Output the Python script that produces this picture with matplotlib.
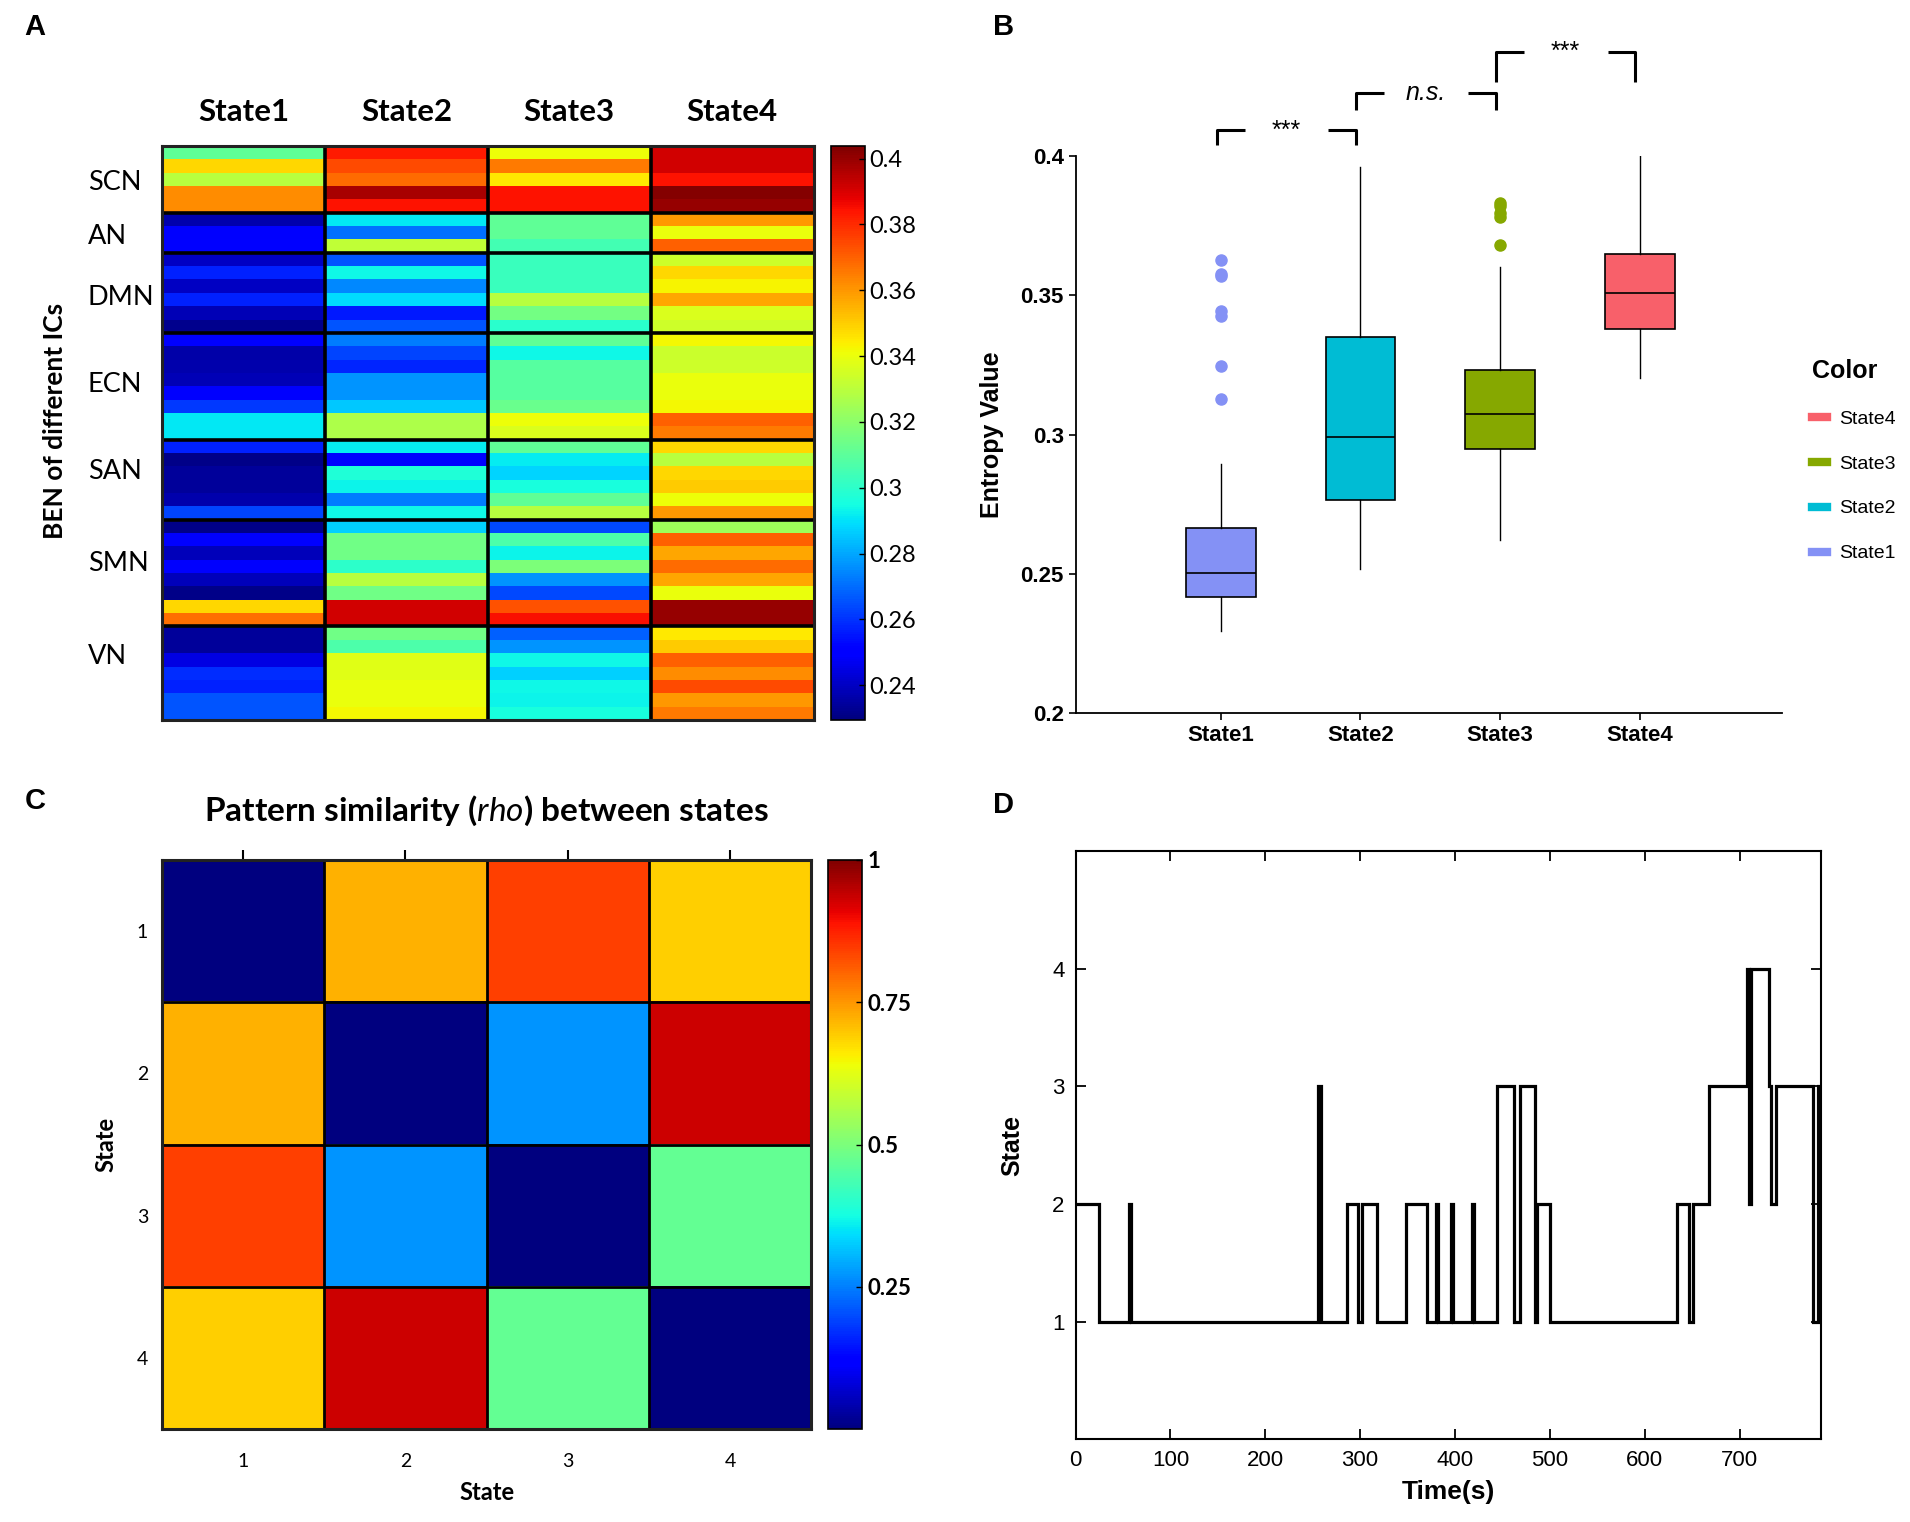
import matplotlib
matplotlib.use('Agg')
import matplotlib.pyplot as plt
import numpy as np
from matplotlib.lines import Line2D

plt.rcParams['font.family'] = ['Lato', 'DejaVu Sans']
plt.rcParams['mathtext.fontset'] = 'custom'
plt.rcParams['mathtext.it'] = 'Lato:italic'
plt.rcParams['mathtext.rm'] = 'Lato'

# ---------------- data ----------------
states = ['State1', 'State2', 'State3', 'State4']
networks = ['SCN', 'AN', 'DMN', 'ECN', 'SAN', 'SMN', 'VN']
network_sizes = [5, 3, 6, 8, 6, 8, 7]
network_label_rows = [2.74, 6.77, 11.35, 17.84, 24.43, 31.29, 38.24]

# panel A: BEN of each IC (rows) in each state
ben_state1 = [0.311, 0.348, 0.329, 0.362, 0.362,
              0.237, 0.249, 0.251,
              0.240, 0.257, 0.240, 0.257, 0.238, 0.232,
              0.249, 0.236, 0.237, 0.238, 0.249, 0.261, 0.291, 0.291,
              0.257, 0.231, 0.234, 0.234, 0.237, 0.263,
              0.231, 0.249, 0.239, 0.249, 0.239, 0.231, 0.348, 0.367,
              0.234, 0.234, 0.245, 0.259, 0.257, 0.266, 0.266]
ben_state2 = [0.383, 0.374, 0.368, 0.397, 0.384,
              0.291, 0.271, 0.331,
              0.266, 0.294, 0.275, 0.289, 0.256, 0.266,
              0.273, 0.263, 0.258, 0.277, 0.277, 0.286, 0.327, 0.327,
              0.292, 0.249, 0.297, 0.293, 0.273, 0.294,
              0.287, 0.314, 0.314, 0.300, 0.329, 0.314, 0.391, 0.391,
              0.314, 0.307, 0.338, 0.338, 0.340, 0.340, 0.342]
ben_state3 = [0.341, 0.365, 0.345, 0.384, 0.384,
              0.311, 0.311, 0.305,
              0.303, 0.303, 0.303, 0.329, 0.315, 0.299,
              0.311, 0.294, 0.309, 0.309, 0.309, 0.313, 0.341, 0.337,
              0.311, 0.292, 0.288, 0.296, 0.311, 0.329,
              0.264, 0.307, 0.293, 0.317, 0.277, 0.264, 0.373, 0.385,
              0.268, 0.277, 0.294, 0.287, 0.294, 0.293, 0.296]
ben_state4 = [0.391, 0.391, 0.384, 0.403, 0.400,
              0.360, 0.340, 0.370,
              0.334, 0.348, 0.343, 0.357, 0.337, 0.334,
              0.342, 0.333, 0.334, 0.340, 0.340, 0.342, 0.370, 0.365,
              0.348, 0.329, 0.348, 0.350, 0.341, 0.360,
              0.324, 0.370, 0.357, 0.368, 0.357, 0.340, 0.400, 0.400,
              0.345, 0.350, 0.370, 0.362, 0.374, 0.360, 0.365]

# panel B: box statistics
box_q1 = [0.2418, 0.2766, 0.2950, 0.3380]
box_med = [0.2505, 0.2992, 0.3073, 0.3507]
box_q3 = [0.2667, 0.3350, 0.3231, 0.3647]
box_lo = [0.2297, 0.2517, 0.2624, 0.3205]
box_hi = [0.2894, 0.3960, 0.3601, 0.4000]
box_fliers = [[0.3627, 0.3576, 0.3568, 0.3445, 0.3427, 0.3248, 0.3129],
              [],
              [0.3832, 0.3822, 0.3795, 0.3782, 0.3680],
              []]
box_colors = ['#8491F5', '#00BCD4', '#86A800', '#F8606A']
sig_pairs = [(1, 2), (2, 3), (3, 4)]
sig_labels = ['***', 'n.s.', '***']
sig_top = [0.4092, 0.4228, 0.4373]
sig_bottom = [0.4040, 0.4167, 0.4266]

# panel C: pattern similarity between states
rho = [[0.00, 0.72, 0.84, 0.69],
       [0.72, 0.00, 0.27, 0.93],
       [0.84, 0.27, 0.00, 0.47],
       [0.69, 0.93, 0.47, 0.00]]

# panel D: state sequence (change times in s, state entered)
change_times = [0, 25, 56, 58, 256, 259, 286, 298, 302, 318, 348, 370,
                380, 382, 396, 398, 418, 420, 444, 462, 469, 484, 487, 500,
                634, 647, 651, 668, 708, 710, 712, 731, 733, 738, 778, 783]
change_states = [2, 1, 2, 1, 3, 1, 2, 1, 2, 1, 2, 1,
                 2, 1, 2, 1, 2, 1, 3, 1, 3, 1, 2, 1,
                 2, 1, 2, 3, 4, 2, 4, 3, 2, 3, 1, 3]
end_time = 786

fig = plt.figure(figsize=(19.1, 15.22), dpi=100)
W, H = 1568.0, 1248.0
ARIAL = ['Liberation Sans', 'DejaVu Sans']


def fr(x0, y0, x1, y1):
    return [x0 / W, 1 - y1 / H, (x1 - x0) / W, (y1 - y0) / H]


# ---------------- A ----------------
axA = fig.add_axes(fr(133, 120, 668, 590))
ben = np.column_stack([ben_state1, ben_state2, ben_state3, ben_state4])
n_rows = ben.shape[0]
imA = axA.imshow(ben, cmap='jet', vmin=0.2296, vmax=0.4037, aspect='auto',
                 interpolation='nearest', extent=(0, 4, n_rows, 0))
bounds = np.cumsum(network_sizes)
for b in bounds[:-1]:
    axA.axhline(b, color='black', lw=2.6)
for c in range(1, 4):
    axA.axvline(c, color='black', lw=2.6)
for s in axA.spines.values():
    s.set_linewidth(2.2)
    s.set_color('#222222')
axA.set_xticks([])
axA.set_yticks([])
for name, cy in zip(networks, network_label_rows):
    axA.text(-0.114, cy, name, transform=axA.get_yaxis_transform(),
             ha='left', va='center', fontsize=19.5)
for i, st in enumerate(states):
    axA.text(i + 0.5, 1.06, st, transform=axA.get_xaxis_transform(),
             ha='center', va='center', fontsize=22.5, fontweight='bold')
fig.text(45 / W, 1 - 345 / H, 'BEN of different ICs', rotation=90,
         ha='center', va='center', fontsize=19, fontweight='bold')

caxA = fig.add_axes(fr(682, 120, 710, 590))
cbA = fig.colorbar(imA, cax=caxA)
cbA.set_ticks([0.24, 0.26, 0.28, 0.30, 0.32, 0.34, 0.36, 0.38, 0.40])
cbA.set_ticklabels(['0.24', '0.26', '0.28', '0.3', '0.32', '0.34', '0.36',
                    '0.38', '0.4'])
caxA.tick_params(labelsize=17, direction='in', length=4, width=1)
cbA.outline.set_linewidth(1.2)

# ---------------- B ----------------
axB = fig.add_axes(fr(883, 128, 1463, 585))
for i in range(4):
    st = dict(med=box_med[i], q1=box_q1[i], q3=box_q3[i],
              whislo=box_lo[i], whishi=box_hi[i], fliers=box_fliers[i])
    axB.bxp([st], positions=[i + 1], widths=0.5, patch_artist=True,
            showcaps=False,
            boxprops=dict(facecolor=box_colors[i], edgecolor='black', lw=1.2),
            medianprops=dict(color='black', lw=1.2),
            whiskerprops=dict(color='black', lw=1.0),
            flierprops=dict(marker='o', markerfacecolor=box_colors[i],
                            markeredgecolor=box_colors[i], markersize=8))
axB.set_ylim(0.2, 0.4)
axB.set_xlim(-0.04, 5.02)
axB.set_xticks([1, 2, 3, 4])
axB.set_xticklabels(states)
axB.set_yticks([0.2, 0.25, 0.3, 0.35, 0.4])
axB.set_yticklabels(['0.2', '0.25', '0.3', '0.35', '0.4'])
axB.tick_params(labelsize=16, length=5, width=1.2)
for lab in axB.get_xticklabels() + axB.get_yticklabels():
    lab.set_fontweight('bold')
    lab.set_family(ARIAL)
axB.spines['top'].set_visible(False)
axB.spines['right'].set_visible(False)
axB.spines['left'].set_linewidth(1.3)
axB.spines['bottom'].set_linewidth(1.3)
axB.set_ylabel('Entropy Value', fontsize=18, fontweight='bold',
               family=ARIAL, labelpad=12)
for (p1, p2), lab, top, bot in zip(sig_pairs, sig_labels, sig_top, sig_bottom):
    x1, x2 = p1 - 0.03, p2 - 0.03
    kw = dict(color='black', lw=2.2, clip_on=False, solid_capstyle='butt')
    axB.plot([x1, x1, x1 + 0.2], [bot, top, top], **kw)
    axB.plot([x2 - 0.2, x2, x2], [top, top, bot], **kw)
    axB.text((x1 + x2) / 2, top, lab, ha='center', va='center', fontsize=18,
             style='italic' if lab == 'n.s.' else 'normal', family=ARIAL)
handles = [Line2D([], [], color=box_colors[i], lw=6) for i in [3, 2, 1, 0]]
legB = fig.legend(handles, [states[i] for i in [3, 2, 1, 0]],
                  loc='upper left', bbox_to_anchor=(1473 / W, 1 - 280 / H),
                  frameon=False, handlelength=0.8, labelspacing=1.4,
                  handletextpad=0.6, title='Color',
                  title_fontproperties=dict(size=18, weight='bold',
                                            family='Liberation Sans'),
                  alignment='left',
                  prop=dict(size=14, family='Liberation Sans'))

# ---------------- C ----------------
axC = fig.add_axes(fr(133, 705, 666, 1172))
imC = axC.imshow(np.array(rho), cmap='jet', vmin=0, vmax=1, aspect='auto',
                 interpolation='nearest', extent=(0.5, 4.5, 4.5, 0.5))
for g in [1.5, 2.5, 3.5]:
    axC.axhline(g, color='black', lw=2)
    axC.axvline(g, color='black', lw=2)
for s in axC.spines.values():
    s.set_linewidth(2.2)
    s.set_color('#222222')
axC.set_xticks([1, 2, 3, 4])
axC.set_yticks([1, 2, 3, 4])
axC.tick_params(axis='both', labelsize=14, length=0, pad=10)
axC.tick_params(axis='x', top=True, direction='out', length=7, width=1.5)
axC.tick_params(axis='x', bottom=False, labeltop=False)
axC.set_xlabel('State', fontsize=17, fontweight='bold', labelpad=8)
axC.set_ylabel('State', fontsize=17, fontweight='bold', labelpad=14)
axC.set_title('Pattern similarity ($\\mathit{rho}$) between states',
              fontsize=24, fontweight='bold', pad=28)

caxC = fig.add_axes(fr(680, 705, 708, 1172))
cbC = fig.colorbar(imC, cax=caxC)
cbC.set_ticks([0.25, 0.5, 0.75, 1.0])
cbC.set_ticklabels(['0.25', '0.5', '0.75', '1'])
caxC.tick_params(labelsize=16, direction='in', length=4, width=1)
for lab in caxC.get_yticklabels():
    lab.set_fontweight('bold')
cbC.outline.set_linewidth(1.2)

# ---------------- D ----------------
axD = fig.add_axes(fr(883, 698, 1495, 1180))
axD.stairs(change_states, change_times + [end_time], baseline=None,
           color='black', lw=2.3)
axD.set_xlim(0, end_time)
axD.set_ylim(0, 5)
axD.set_xticks(np.arange(0, 701, 100))
axD.set_yticks([1, 2, 3, 4])
axD.tick_params(direction='in', top=True, right=True, length=7, width=1.3,
                labelsize=16, pad=8)
for lab in axD.get_xticklabels() + axD.get_yticklabels():
    lab.set_family(ARIAL)
for s in axD.spines.values():
    s.set_linewidth(1.5)
axD.set_xlabel('Time(s)', fontsize=19, fontweight='bold', family=ARIAL,
               labelpad=6)
axD.set_ylabel('State', fontsize=18, fontweight='bold', family=ARIAL,
               labelpad=20)

# panel letters
for txt, x, y in [('A', 20, 22), ('B', 815, 22), ('C', 20, 657), ('D', 815, 660)]:
    fig.text(x / W, 1 - y / H, txt, fontsize=21, fontweight='bold',
             ha='left', va='center', family=ARIAL)

fig.savefig('out.png', dpi=100)
